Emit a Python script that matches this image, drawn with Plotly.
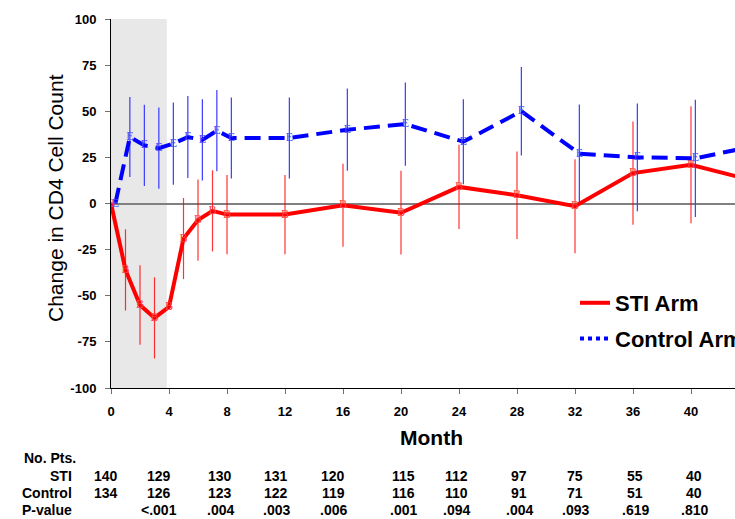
import plotly.graph_objects as go

# ---------------- data ----------------
months = [0, 1, 2, 3, 4, 5, 6, 7, 8, 12, 16, 20, 24, 28, 32, 36, 40, 44]
sti_change = [0, -36, -55, -62, -56, -19, -9, -4, -6, -6, -1, -5, 9, 4.5, -1.5, 16.5, 21, 13]
sti_err = [None, 22, 21.5, 22, None, 22, 22, 22, 21.5, 21.5, 22.5, 22.7, 22.8, 23.7, 25.5, 28, 31.7, None]
control_change = [0, 36, 31.5, 30, 32.5, 36, 34.5, 39.5, 35.5, 35.5, 40, 43, 33.5, 50, 27, 25, 24.5, 31]
control_err = [None, 21.7, 22, 22, 22.3, 22.2, 22, 22, 22, 22, 22.3, 22.6, 23, 24, 26.6, 29.2, 31.8, None]

x_ticks = [0, 4, 8, 12, 16, 20, 24, 28, 32, 36, 40]
y_ticks = [100, 75, 50, 25, 0, -25, -50, -75, -100]
y_tick_labels = ["100", "75", "50", "25", "0", "-25", "-50", "-75", "-100"]

table_months = [0, 4, 8, 12, 16, 20, 24, 28, 32, 36, 40]
n_sti = ["140", "129", "130", "131", "120", "115", "112", "97", "75", "55", "40"]
n_control = ["134", "126", "123", "122", "119", "116", "110", "91", "71", "51", "40"]
p_values = ["", "<.001", ".004", ".003", ".006", ".001", ".094", ".004", ".093", ".619", ".810"]

# ---------------- layout helpers ----------------
W, H = 735, 519
L, R, T, B = 111, 0, 19, 131
PW, PH = W - L - R, H - T - B
FONT = "Arial, Liberation Sans, sans-serif"
dodge = 0.3                      # control arm drawn slightly to the right
table_nudge = [-5, -10, -7, -9, -10, 2, -3, 2, 0, 2, 3]


def py(p):
    return (T + PH - p) / PH


def px(p):
    return (p - L) / PW


fig = go.Figure()

fig.add_shape(type="rect", xref="x", yref="y", x0=0, x1=3.85, y0=-100, y1=100,
              fillcolor="#e8e8e8", line_width=0, layer="below")

fig.add_trace(go.Scatter(
    x=months, y=sti_change, mode="lines+text", text=["B"] * len(months),
    textposition="middle center",
    textfont=dict(family="Liberation Serif, Times New Roman, serif", size=12, color="#ff4040"),
    line=dict(color="#ff0000", width=4),
    error_y=dict(type="data", array=sti_err, visible=True, color="rgba(255,0,0,0.8)",
                 thickness=1.2, width=0),
    showlegend=False, cliponaxis=True))

fig.add_trace(go.Scatter(
    x=[m + dodge for m in months], y=control_change, mode="lines+text",
    text=["E"] * len(months), textposition="middle center",
    textfont=dict(family="Liberation Serif, Times New Roman, serif", size=12, color="#4a4aff"),
    line=dict(color="#0000ff", width=4, dash="16px,8px"),
    error_y=dict(type="data", array=control_err, visible=True, color="#3a3aff",
                 thickness=1.2, width=0),
    showlegend=False, cliponaxis=True))

# legend entries
fig.add_trace(go.Scatter(x=[None], y=[None], mode="lines", name="STI Arm",
                         line=dict(color="#ff0000", width=4), legendgroup="a"))
fig.add_trace(go.Scatter(x=[None], y=[None], mode="lines", name="Control Arm",
                         line=dict(color="#0000ff", width=4, dash="dot"), legendgroup="b"))

ann = []
# axis titles
ann.append(dict(text="Month", xref="paper", yref="paper", x=px(432), y=py(437),
                showarrow=False, xanchor="center", yanchor="middle",
                font=dict(family=FONT, size=21, color="black", weight="bold")))
ann.append(dict(text="Change in CD4 Cell Count", xref="paper", yref="paper", x=px(55), y=py(198),
                showarrow=False, xanchor="center", yanchor="middle", textangle=-90,
                font=dict(family=FONT, size=21, color="black")))

# table
tfont = dict(family=FONT, size=14, color="black", weight="bold")
ann.append(dict(text="No. Pts.", xref="paper", yref="paper", x=px(22), y=py(458),
                showarrow=False, xanchor="left", yanchor="middle", font=tfont))
rows = [("STI", n_sti, 475.5), ("Control", n_control, 492.5), ("P-value", p_values, 510)]
for label, vals, yy in rows:
    ann.append(dict(text=label, xref="paper", yref="paper", x=px(74), y=py(yy),
                    showarrow=False, xanchor="right", yanchor="middle", font=tfont))
    for m, v, nud in zip(table_months, vals, table_nudge):
        if v:
            ann.append(dict(text=v, xref="x", yref="paper", x=m, y=py(yy), xshift=nud,
                            showarrow=False, xanchor="center", yanchor="middle", font=tfont))

fig.update_layout(
    width=W, height=H, margin=dict(l=L, r=R, t=T, b=B, autoexpand=False),
    paper_bgcolor="white", plot_bgcolor="white",
    font=dict(family=FONT, color="black"),
    annotations=ann,
    legend=dict(x=px(575), y=py(282), xanchor="left", yanchor="top",
                bgcolor="rgba(0,0,0,0)", tracegroupgap=4,
                font=dict(family=FONT, size=22, color="black", weight="bold")),
    xaxis=dict(range=[0, PW / 14.5], tickvals=x_ticks, ticks="outside", ticklen=5,
               tickcolor="#707070", showline=True, linecolor="black", linewidth=1,
               showgrid=False, zeroline=False, ticklabelstandoff=6,
               tickfont=dict(family=FONT, size=13, color="black", weight="bold")),
    yaxis=dict(range=[-100, 100], tickvals=y_ticks, ticktext=y_tick_labels, ticks="outside",
               ticklen=5, tickcolor="#707070", showline=True, linecolor="black", linewidth=1,
               showgrid=False, zeroline=True, zerolinecolor="#808080", zerolinewidth=2,
               ticklabelstandoff=6,
               tickfont=dict(family=FONT, size=13, color="black", weight="bold")),
)

fig.write_html("out.html", config={"displayModeBar": False},
               post_script="document.body.style.margin='0px';")
